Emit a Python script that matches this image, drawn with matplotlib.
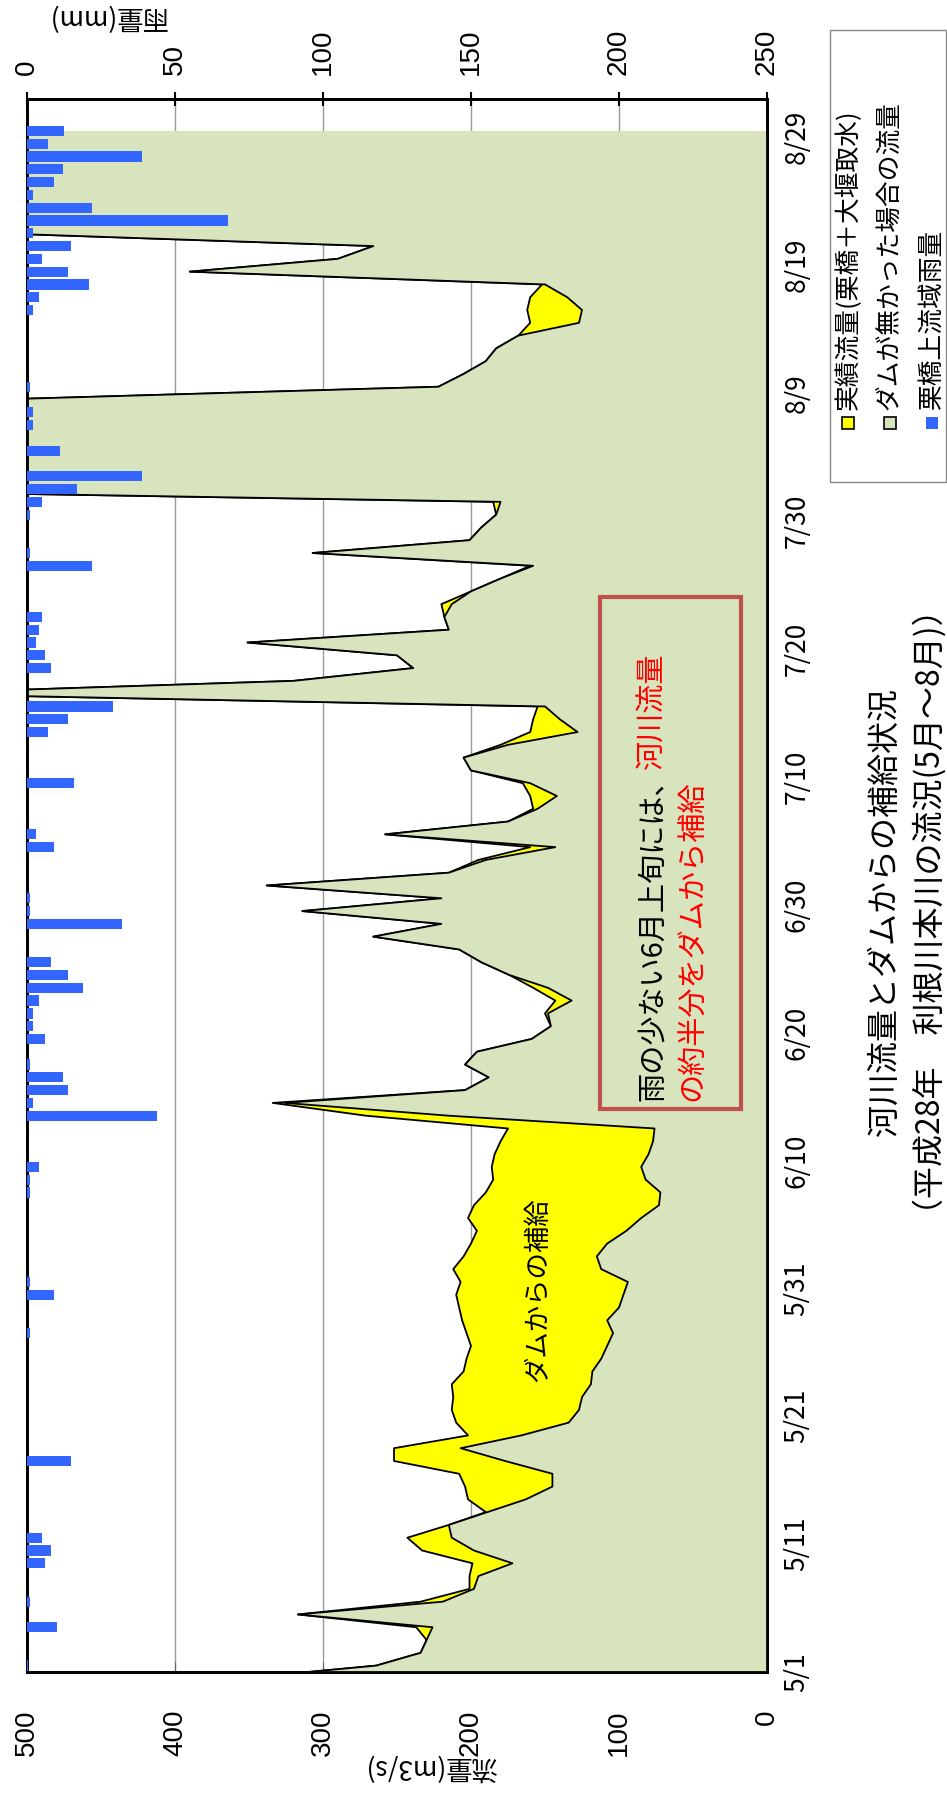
import numpy as np
import matplotlib.pyplot as plt
from matplotlib.patches import Rectangle

plt.rcParams['font.family'] = ['Noto Sans CJK JP', 'DejaVu Sans']

# daily flow (m3/s), 4/30 .. 8/29 (first value only sets the edge at 5/1)
natural = [356,
           264, 234, 230, 226, 317, 219, 198, 195, 172, 198,
           213, 215, 189, 163, 145, 145, 177, 207, 166, 134,
           127, 125, 119, 118, 112, 108, 104, 108, 100, 97,
           94, 112, 115, 108, 95, 85, 73, 72, 82, 85,
           80, 77, 76, 215, 326, 204, 188, 204, 196, 159,
           146, 148, 132, 148, 174, 193, 208, 266, 220, 314,
           220, 338, 215, 190, 143, 258, 175, 155, 142, 160,
           200, 205, 175, 128, 140, 150, 586, 320, 239, 250,
           351, 215, 218, 213, 200, 180, 158, 307, 201, 193,
           183, 180, 700, 800, 700, 650, 600, 560, 540, 520,
           222, 205, 190, 183, 168, 127, 125, 135, 150, 390,
           290, 266, 520, 700, 800, 900, 1000, 900, 800, 700, 650]
actual = [356,
          264, 234, 230, 237, 317, 234, 201, 201, 199, 233,
          243, 215, 190, 202, 204, 208, 252, 252, 202, 210,
          213, 212, 213, 205, 203, 200, 203, 206, 208, 210,
          207, 212, 205, 200, 196, 202, 198, 190, 185, 186,
          184, 180, 175, 271, 334, 204, 188, 204, 196, 159,
          146, 150, 143, 158, 174, 193, 208, 266, 220, 314,
          220, 338, 215, 195, 160, 258, 175, 158, 160, 165,
          200, 205, 180, 160, 158, 155, 586, 320, 239, 250,
          351, 215, 218, 220, 200, 180, 160, 307, 201, 193,
          183, 185, 700, 800, 700, 650, 600, 560, 540, 520,
          222, 205, 190, 183, 168, 160, 162, 160, 152, 390,
          290, 266, 520, 700, 800, 900, 1000, 900, 800, 700, 650]
# rain (mm) by day index from 5/1 (0) .. 8/29 (120)
rain = {0: 0.5, 3: 10, 5: 1, 8: 6, 9: 8, 10: 5, 16: 15, 26: 1, 29: 9, 30: 1,
        37: 1, 38: 1, 39: 4, 43: 44, 44: 2, 45: 14, 46: 12, 47: 1, 49: 6, 50: 2,
        51: 2, 52: 4, 53: 19, 54: 14, 55: 8, 58: 32, 59: 1, 60: 1, 64: 9, 65: 3,
        69: 16, 73: 7, 74: 14, 75: 29, 78: 8, 79: 6, 80: 3, 81: 4, 82: 5, 86: 22,
        87: 1, 90: 1, 91: 5, 92: 17, 93: 39, 95: 11, 97: 2, 98: 2, 100: 1, 106: 2,
        107: 4, 108: 21, 109: 14, 110: 5, 111: 15, 112: 2, 113: 68, 114: 22, 115: 2,
        116: 9, 117: 12, 118: 39, 119: 7, 120: 12.5}
date_labels = ['5/1', '5/11', '5/21', '5/31', '6/10', '6/20', '6/30',
               '7/10', '7/20', '7/30', '8/9', '8/19', '8/29']

W, H = 947, 1793
fig = plt.figure(figsize=(W / 100, H / 100), dpi=100)


def fx(px):
    return px / W


def fy(py):
    return 1 - py / H


ax = fig.add_axes([fx(27), fy(1672), fx(767) - fx(27), fy(99) - fy(1672)])
days = np.arange(len(natural)) - 0.5

ax.fill_betweenx(days, 0, actual, color='#FFFF00', lw=0, zorder=2)
ax.plot(actual, days, color='black', lw=1.3, zorder=3)
ax.fill_betweenx(days, 0, natural, color='#D7E4BD', lw=0, zorder=4)
ax.plot(natural, days, color='black', lw=1.3, zorder=5)

ax.set_xlim(500, 0)
ax.set_ylim(0, 123)
for v in [100, 200, 300, 400]:
    ax.axvline(v, color='#999999', lw=1, zorder=1)

ax.set_xticks(range(0, 501, 100))
ax.set_xticklabels([str(v) for v in range(0, 501, 100)], rotation=90,
                   family='Liberation Sans', fontsize=20)
ax.tick_params(axis='x', direction='in', length=7, color='#666666', pad=27)
ax.yaxis.tick_right()
ax.set_yticks(range(0, 121, 10))
ax.set_yticklabels(date_labels, rotation=90, fontsize=19, va='center')
ax.tick_params(axis='y', direction='in', length=5, color='#888888', pad=12)
for s in ax.spines.values():
    s.set_linewidth(2)

ax2 = ax.twiny()
ax2.set_xlim(0, 250)
rk = list(rain.keys())
ax2.barh([k + 0.5 for k in rk], [rain[k] for k in rk], height=0.8,
         color='#3366FF', zorder=6)
ax2.set_xticks(range(0, 251, 50))
ax2.set_xticklabels([str(v) for v in range(0, 251, 50)], rotation=90,
                    family='Liberation Sans', fontsize=20)
ax2.tick_params(axis='x', direction='inout', length=10, width=1.5, pad=12)
for s in ax2.spines.values():
    s.set_linewidth(2)

# axis titles
fig.text(fx(430), fy(1767), '流量(m3/s)', rotation=180, fontsize=19,
         ha='center', va='center')
fig.text(fx(107), fy(17), '雨量(mm)', rotation=180, fontsize=19,
         ha='center', va='center')

# chart title
fig.text(fx(908), fy(912), '河川流量とダムからの補給状況\n（平成28年　利根川本川の流況(5月～8月)）',
         rotation=90, fontsize=23, ha='center', va='center', multialignment='center',
         linespacing=1.45)

# legend
fig.patches.append(Rectangle((fx(830), fy(482)), fx(946) - fx(830), fy(30) - fy(482),
                             transform=fig.transFigure, fill=False,
                             edgecolor='#888888', lw=1))
legend_items = [('実績流量(栗橋＋大堰取水)', '#FFFF00', 'black'),
                ('ダムが無かった場合の流量', '#D7E4BD', 'black'),
                ('栗橋上流域雨量', '#3366FF', 'none')]
for k, (lab, fc, ec) in enumerate(legend_items):
    cx = 848 + 42 * k
    fig.patches.append(Rectangle((fx(cx - 6), fy(429)), fx(12), 12 / H,
                                 transform=fig.transFigure, facecolor=fc,
                                 edgecolor=ec, lw=1.2))
    fig.text(fx(cx), fy(410), lab, rotation=90, fontsize=18.5,
             ha='center', va='bottom')

# note box
fig.patches.append(Rectangle((fx(600), fy(1109)), fx(741) - fx(600), fy(597) - fy(1109),
                             transform=fig.transFigure, fill=False,
                             edgecolor='#C0504D', lw=3))
t1 = fig.text(fx(653), fy(1101), '雨の少ない6月上旬には、', rotation=90,
              fontsize=21, ha='center', va='bottom')
fig.canvas.draw()
bb = t1.get_window_extent()
fig.text(fx(653), (bb.y1 - 6) / H, '河川流量', rotation=90, color='red',
         fontsize=21, ha='center', va='bottom')
fig.text(fx(693), fy(1101), 'の約半分をダムから補給', rotation=90, color='red',
         fontsize=21, ha='center', va='bottom')

ax.text(155, 29.9, 'ダムからの補給', rotation=90, fontsize=19,
        ha='center', va='center', zorder=7)

fig.savefig('out.png', dpi=100)
